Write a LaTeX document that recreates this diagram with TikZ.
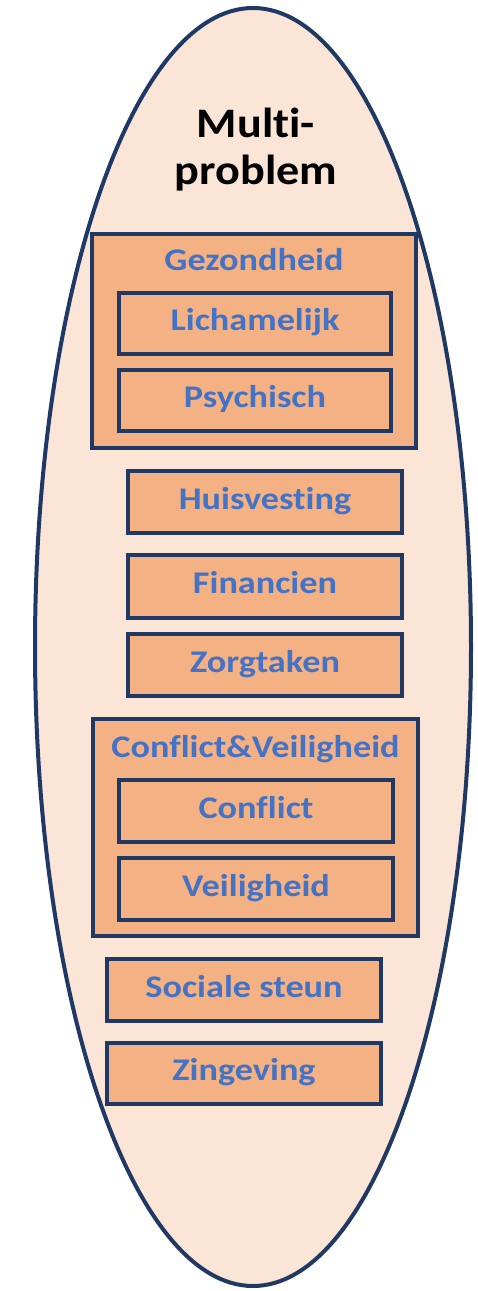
\documentclass[tikz,border=0pt]{standalone}
\usepackage{fontspec}
\usetikzlibrary{shadows}
\setmainfont{Carlito}
\newfontfamily\bluefont{Carlito}[FakeStretch=1.15, Ligatures=NoCommon]
\newfontfamily\titlefont{Carlito}[FakeStretch=1.1, Ligatures=NoCommon]
\definecolor{ellfill}{HTML}{FBE5D6}
\definecolor{boxfill}{HTML}{F4B183}
\definecolor{navy}{HTML}{203864}
\definecolor{txtblue}{HTML}{4472C4}
\tikzset{
  ovalshape/.style={draw=navy, fill=ellfill, line width=4pt},
  catbox/.style={draw=navy, fill=boxfill, line width=4.5pt, inner sep=0pt, outer sep=0pt, rectangle,
    drop shadow={shadow xshift=1.5pt, shadow yshift=-1.5pt, opacity=0.18, fill=black}},
  lbl/.style={text=txtblue, font=\bluefont\bfseries\fontsize{31.5}{36}\selectfont, inner sep=0pt, text height=22pt, text depth=8pt},
}
\begin{document}
\begin{tikzpicture}[x=1pt,y=-1pt]
\useasboundingbox (0,0) rectangle (477,1291);
% outer ellipse
\draw[ovalshape] (253,647) ellipse [x radius=218, y radius=639];
\node[inner sep=0pt, align=center, font=\titlefont\bfseries\fontsize{42}{47}\selectfont] (title) at (256,150) {Multi-\\problem};

% Gezondheid group
\node[catbox, minimum width=324pt, minimum height=214pt] (gez) at (254,341) {};
\node[lbl] (gezl) at (254,263) {Gezondheid};
\node[catbox, minimum width=272pt, minimum height=61pt] (lich) at (255,323.5) {};
\node[lbl] at (lich.center) {Lichamelijk};
\node[catbox, minimum width=272pt, minimum height=61pt] (psy) at (255,400.5) {};
\node[lbl] at (psy.center) {Psychisch};

% single boxes
\node[catbox, minimum width=274pt, minimum height=62pt] (huis) at (265,502) {};
\node[lbl] at (huis.center) {Huisvesting};
\node[catbox, minimum width=274pt, minimum height=63pt] (fin) at (265,586.5) {};
\node[lbl] at (fin.center) {Financien};
\node[catbox, minimum width=274pt, minimum height=62pt] (zorg) at (265,665) {};
\node[lbl] at (zorg.center) {Zorgtaken};

% Conflict & Veiligheid group
\node[catbox, minimum width=325pt, minimum height=217pt] (cv) at (255.5,827.5) {};
\node[lbl] (cvl) at (255.5,750) {Conflict\&Veiligheid};
\node[catbox, minimum width=274pt, minimum height=62pt] (conf) at (256,811) {};
\node[lbl] at (conf.center) {Conflict};
\node[catbox, minimum width=274pt, minimum height=62pt] (veil) at (256,889) {};
\node[lbl] at (veil.center) {Veiligheid};

% bottom boxes
\node[catbox, minimum width=274pt, minimum height=62pt] (soc) at (244,990) {};
\node[lbl] at (soc.center) {Sociale steun};
\node[catbox, minimum width=274pt, minimum height=61pt] (zin) at (244,1073.5) {};
\node[lbl] at (zin.center) {Zingeving};
\end{tikzpicture}
\end{document}
